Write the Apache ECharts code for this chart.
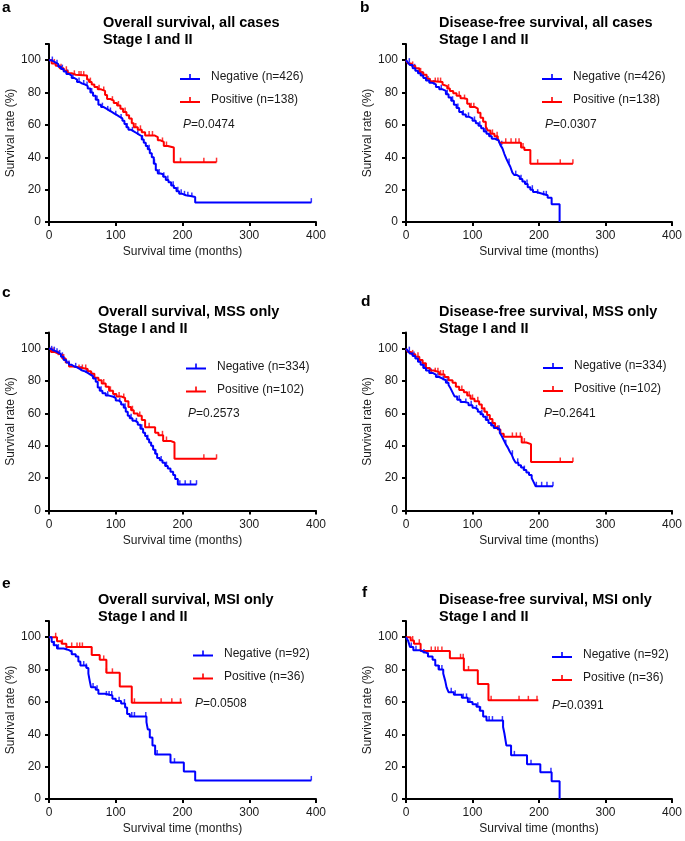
<!DOCTYPE html>
<html>
<head>
<meta charset="utf-8">
<script src="https://cdn.jsdelivr.net/npm/echarts@6/dist/echarts.min.js"></script>
<style>
html,body{margin:0;padding:0;background:#fff;}
#chart{width:685px;height:841px;}
</style>
</head>
<body>
<div id="chart"></div>
<script>
// ---------- DATA (step points [months, survival %], end of follow-up, censor times) ----------
const xTicks = [0, 100, 200, 300, 400];
const yTicks = [0, 20, 40, 60, 80, 100];

const panelLetters = ['a', 'b', 'c', 'd', 'e', 'f'];
const panelTitles = [
  'Overall survival, all cases\nStage I and II',
  'Disease-free survival, all cases\nStage I and II',
  'Overall survival, MSS only\nStage I and II',
  'Disease-free survival, MSS only\nStage I and II',
  'Overall survival, MSI only\nStage I and II',
  'Disease-free survival, MSI only\nStage I and II'
];
const negLabels = ['Negative (n=426)', 'Negative (n=426)', 'Negative (n=334)', 'Negative (n=334)', 'Negative (n=92)', 'Negative (n=92)'];
const posLabels = ['Positive (n=138)', 'Positive (n=138)', 'Positive (n=102)', 'Positive (n=102)', 'Positive (n=36)', 'Positive (n=36)'];
const pValues = ['0.0474', '0.0307', '0.2573', '0.2641', '0.0508', '0.0391'];

// Panel a
const aNeg = [[0,100],[3,99.5],[6,98.5],[10,97.5],[14,96],[18,94.5],[22,93],[26,91.5],[30,90.5],[34,89],[38,88],[42,86.5],[46,85.5],[50,85],[54,84],[58,82.5],[62,80],[66,78],[70,75.5],[74,72.5],[78,71],[82,70],[86,69],[90,68],[94,67],[98,66],[102,65],[106,64],[110,62.5],[113,60.5],[116,58.5],[119,57],[123,56],[127,55],[131,54],[135,53],[139,51],[142,49],[145,47],[148,45],[151,42.5],[154,40],[157,36],[160,32],[163,30],[167,29.5],[171,28],[175,26],[179,24.5],[183,22.5],[187,21],[191,19],[195,17.5],[199,16.5],[205,16],[212,15.5],[219,12]];
const aNegEnd = 393;
const aNegCens = [5,12,20,28,36,45,52,57,64,72,80,88,92,100,108,117,125,133,140,150,158,165,172,178,186,193,198,203,208,214,393];
const aPos = [[0,100],[4,98],[10,96.5],[16,95],[22,93.5],[28,92],[34,91],[40,90.5],[57,88],[60,86.5],[64,85],[68,83.5],[73,82],[78,81],[84,78.5],[87,76],[92,75],[97,73.5],[102,72],[107,70],[111,68],[116,66],[120,64],[124,61],[127,58.5],[133,57],[139,55.5],[144,53.5],[158,52.5],[163,50.5],[167,49.5],[172,47],[178,46],[187,37]];
const aPosEnd = 251;
const aPosCens = [8,18,26,38,45,48,52,62,75,82,95,104,114,130,137,150,155,170,176,197,232,251];

// Panel b
const bNeg = [[0,100],[3,98.5],[6,97],[10,95],[14,93.5],[18,92],[22,90.5],[26,89],[30,87.5],[35,86],[40,85],[45,83.5],[50,82],[55,81],[60,79],[64,77],[68,75],[72,72.5],[76,70.5],[80,68],[85,66.5],[90,65],[95,64],[100,62.5],[105,61],[109,59.5],[113,58],[117,56],[121,54.5],[125,53],[129,51.5],[133,50.5],[139,49.5],[142,47.5],[145,45.5],[148,42],[151,39],[154,36.5],[157,34],[160,30.5],[163,29],[167,28],[171,26.5],[175,25],[179,23.5],[183,21.5],[187,20],[191,18.5],[196,17.5],[205,16.5],[213,15],[219,11],[231,0]];
const bNegEnd = 231;
const bNegCens = [5,13,24,33,42,53,62,70,78,86,94,103,111,120,127,136,144,155,165,173,182,190,198,207,211];
const bPos = [[0,100],[3,98],[8,96.5],[14,95],[20,92.5],[26,91],[31,88.5],[36,87],[41,86.5],[55,85],[58,84],[62,82.5],[66,81],[71,79.5],[76,78],[82,76.5],[87,76],[92,73],[96,71],[104,70],[108,67.5],[112,64.5],[116,62],[120,59],[123,56.5],[127,54.5],[133,53],[138,51.5],[141,49],[173,46],[178,44.5],[187,36]];
const bPosEnd = 251;
const bPosCens = [10,22,44,48,52,64,80,88,98,102,130,137,150,158,165,170,176,198,232,251];

// Panel c
const cNeg = [[0,100],[3,99],[6,98.5],[10,97.5],[14,96.5],[18,95],[22,93],[26,91.5],[30,90],[34,89],[38,88.5],[42,87.5],[46,86.5],[50,86],[54,85],[58,84],[62,83],[66,81.5],[70,79.5],[73,76],[76,74],[80,72.5],[85,71],[90,70.5],[95,69.5],[100,68],[104,67],[108,65.5],[112,63.5],[115,61],[118,58.5],[121,57],[125,55.5],[129,54.5],[133,53],[137,50.5],[141,48],[144,46],[147,44],[150,42],[153,40],[156,37.5],[159,35],[162,32.5],[166,31],[170,29.5],[174,27.5],[178,26],[182,24],[186,22],[189,19.5],[193,16]];
const cNegEnd = 221;
const cNegCens = [4,8,12,16,20,30,40,48,56,64,78,88,98,106,114,123,131,139,148,160,168,176,196,204,212,221];
const cPos = [[0,100],[3,98],[8,97],[14,96],[20,94],[25,91.5],[30,89],[36,88.5],[44,87.5],[58,86],[63,84.5],[68,82],[74,80.5],[79,78.5],[85,76.5],[90,74],[96,72],[101,70.5],[108,69.5],[114,67.5],[119,64],[123,62],[127,60],[133,58.5],[139,56],[144,51.5],[159,48],[164,46.5],[171,43],[182,42],[188,32]];
const cPosEnd = 251;
const cPosCens = [6,14,22,45,50,55,82,92,105,112,125,136,150,170,176,232,251];

// Panel d
const dNeg = [[0,100],[3,98.5],[6,97],[10,95.5],[14,94],[18,92],[22,90],[26,88],[30,86.5],[35,85],[40,84],[45,82.5],[50,81.5],[55,80.5],[60,79],[64,77.5],[67,75.5],[70,73],[73,70.5],[77,68.5],[82,67],[88,66.5],[94,65],[100,63.5],[104,62.5],[108,61],[112,59.5],[116,58],[120,56],[124,54],[128,52.5],[132,51],[137,50],[141,48],[144,46],[147,43.5],[150,41],[153,39],[156,36.5],[159,34.5],[162,31.5],[165,29.5],[169,28],[173,26.5],[177,25],[181,23.5],[185,22],[189,20],[192,17.5],[195,15]];
const dNegEnd = 221;
const dNegCens = [5,12,20,28,38,48,56,62,80,90,98,106,114,122,130,140,150,160,168,178,196,204,212,221];
const dPos = [[0,100],[3,98],[8,96.5],[14,95],[20,93],[25,91],[30,88],[36,86.5],[42,85.5],[50,84],[58,82.5],[64,80.5],[70,79],[75,76.5],[80,74.5],[87,73],[92,71],[97,69],[103,67.5],[110,65.5],[114,63],[118,61],[122,59],[126,56.5],[130,54],[134,51.5],[138,50],[142,47.5],[147,45.5],[174,42],[181,41],[188,30]];
const dPosEnd = 251;
const dPosCens = [10,18,44,48,52,56,84,95,100,108,118,138,160,166,172,178,232,251];

// Panel e
const eNeg = [[0,100],[4,97],[7,95],[12,93],[22,92],[30,91],[34,89.5],[40,88],[44,85],[47,82.5],[56,81],[59,77.5],[61,73],[63,69],[70,67.5],[74,65],[84,64],[95,62],[100,60.5],[108,59],[114,56.5],[117,52.5],[121,51],[146,47.5],[148,43],[151,38],[155,33],[159,27.5],[182,22.5],[202,17],[219,11.5]];
const eNegEnd = 393;
const eNegCens = [8,14,26,34,52,56,66,72,86,90,94,105,113,124,128,145,162,188,393];
const ePos = [[0,100],[12,97.5],[19,96],[26,94],[64,89],[76,86],[86,78],[106,69.5],[124,59.5]];
const ePosEnd = 199;
const ePosCens = [10,20,34,42,46,50,82,86,95,128,168,184,197];

// Panel f
const fNeg = [[0,100],[3,98],[6,94],[11,92],[21,91],[26,90],[33,88],[40,86],[44,82.5],[49,80],[56,77.5],[59,73],[61,69],[64,66],[72,64.5],[84,62.5],[93,60],[100,58.5],[106,57],[111,54.5],[116,51],[121,48.5],[146,44.5],[148,40.5],[151,33],[158,27],[182,21.5],[202,16.5],[219,11],[231,0]];
const fNegEnd = 231;
const fNegCens = [8,15,27,33,50,54,68,74,86,91,96,108,112,125,130,145,163,188,218];
const fPos = [[0,100],[7,98],[12,96],[22,91.5],[66,87],[87,79.5],[108,71],[124,61]];
const fPosEnd = 199;
const fPosCens = [10,20,38,44,48,54,82,86,94,128,170,184,197];

const negCurves = [aNeg, bNeg, cNeg, dNeg, eNeg, fNeg];
const negEnds = [aNegEnd, bNegEnd, cNegEnd, dNegEnd, eNegEnd, fNegEnd];
const negCens = [aNegCens, bNegCens, cNegCens, dNegCens, eNegCens, fNegCens];
const posCurves = [aPos, bPos, cPos, dPos, ePos, fPos];
const posEnds = [aPosEnd, bPosEnd, cPosEnd, dPosEnd, ePosEnd, fPosEnd];
const posCens = [aPosCens, bPosCens, cPosCens, dPosCens, ePosCens, fPosCens];

// ---------- LAYOUT ----------
const BLUE = '#0000ff', RED = '#ff0000', INK = '#1a1a1a';
const FONT = '"Liberation Sans", Arial, sans-serif';
const colLeft = [49, 406];
const rowTop = [44, 332.5, 621];
const gridW = 267, gridH = 178;

const titlePos = [[103, 14], [439, 14], [98, 303], [439, 303], [98, 591.5], [439, 591.5]];
const letterPos = [[2, 0], [360, 0.5], [2, 285.5], [361, 294], [2, 576], [362, 585.5]];
const legendPos = [[180, 70], [542, 70], [186, 359.5], [543, 359], [193, 646.5], [552, 648]];
const pPos = [[183, 118], [545, 118], [188, 407], [544, 407], [195, 696.5], [552, 699]];

function stepData(curve, end) {
  const d = curve.map(p => [p[0], p[1]]);
  const last = d[d.length - 1];
  if (end > last[0]) d.push([end, last[1]]);
  return d;
}
function survAt(curve, t) {
  let s = curve[0][1];
  for (const p of curve) { if (p[0] <= t) s = p[1]; }
  return s;
}

const grids = [], xAxes = [], yAxes = [], series = [], titles = [], legends = [];
for (let i = 0; i < 6; i++) {
  const col = i % 2, row = Math.floor(i / 2);
  grids.push({ left: colLeft[col], top: rowTop[row], width: gridW, height: gridH, containLabel: false });
  xAxes.push({
    gridIndex: i, type: 'value', min: xTicks[0], max: xTicks[xTicks.length - 1], interval: 100,
    axisLine: { lineStyle: { color: '#000', width: 2 } },
    axisTick: { show: true, length: 4, lineStyle: { color: '#000', width: 2 } },
    axisLabel: { fontSize: 12, color: INK, margin: 8, fontFamily: FONT },
    splitLine: { show: false },
    name: 'Survival time (months)', nameLocation: 'middle', nameGap: 24,
    nameTextStyle: { fontSize: 12, color: INK, fontFamily: FONT }
  });
  yAxes.push({
    gridIndex: i, type: 'value', min: 0, max: 110, interval: 20,
    axisLine: { lineStyle: { color: '#000', width: 2 } },
    axisTick: { show: true, length: 4, lineStyle: { color: '#000', width: 2 } },
    axisLabel: { fontSize: 12, color: INK, margin: 8, fontFamily: FONT,
      formatter: v => (yTicks.indexOf(v) >= 0 ? String(v) : '') },
    splitLine: { show: false },
    name: 'Survival rate (%)', nameLocation: 'middle', nameGap: 28,
    nameTextStyle: { fontSize: 12, color: INK, fontFamily: FONT }
  });
  const groups = [
    { name: negLabels[i], color: BLUE, curve: negCurves[i], end: negEnds[i], cens: negCens[i] },
    { name: posLabels[i], color: RED, curve: posCurves[i], end: posEnds[i], cens: posCens[i] }
  ];
  for (const g of [groups[1], groups[0]]) {
    series.push({
      type: 'line', name: g.name, xAxisIndex: i, yAxisIndex: i,
      data: stepData(g.curve, g.end), step: 'end', showSymbol: false, symbol: 'none',
      lineStyle: { color: g.color, width: 2 }, itemStyle: { color: g.color },
      animation: false, silent: true
    });
    series.push({
      type: 'scatter', name: g.name + ' censored', xAxisIndex: i, yAxisIndex: i,
      data: g.cens.map(t => [t, survAt(g.curve, t)]),
      symbol: 'rect', symbolSize: [1.5, 4.5], symbolOffset: [0, -2.2],
      itemStyle: { color: g.color }, animation: false, silent: true
    });
  }
  titles.push({
    text: panelTitles[i], left: titlePos[i][0], top: titlePos[i][1], padding: 0,
    textStyle: { fontSize: 14.5, fontWeight: 'bold', color: '#000', lineHeight: 17, fontFamily: FONT }
  });
  titles.push({
    text: panelLetters[i], left: letterPos[i][0], top: letterPos[i][1], padding: 0,
    textStyle: { fontSize: 15.5, fontWeight: 'bold', color: '#000', lineHeight: 15, fontFamily: FONT }
  });
  titles.push({
    text: '{i|P}=' + pValues[i], left: pPos[i][0], top: pPos[i][1], padding: 0,
    textStyle: { fontSize: 12, fontWeight: 'normal', color: INK, lineHeight: 14, fontFamily: FONT,
      rich: { i: { fontStyle: 'italic', fontSize: 12, color: INK, fontFamily: FONT } } }
  });
  legends.push({
    data: [negLabels[i], posLabels[i]], orient: 'vertical',
    left: legendPos[i][0], top: legendPos[i][1], padding: 0, itemGap: 9,
    itemWidth: 20, itemHeight: 8,
    icon: 'path://M0,6 L20,6 L20,8 L0,8 Z M9.2,2 L10.8,2 L10.8,6 L9.2,6 Z',
    selectedMode: false,
    textStyle: { fontSize: 12, color: INK, fontFamily: FONT, lineHeight: 14, padding: [0, 0, 0, 6] }
  });
}

const chart = echarts.init(document.getElementById('chart'), null, { renderer: 'canvas' });
chart.setOption({
  backgroundColor: '#fff',
  animation: false,
  title: titles,
  legend: legends,
  grid: grids,
  xAxis: xAxes,
  yAxis: yAxes,
  series: series
});
</script>
</body>
</html>
